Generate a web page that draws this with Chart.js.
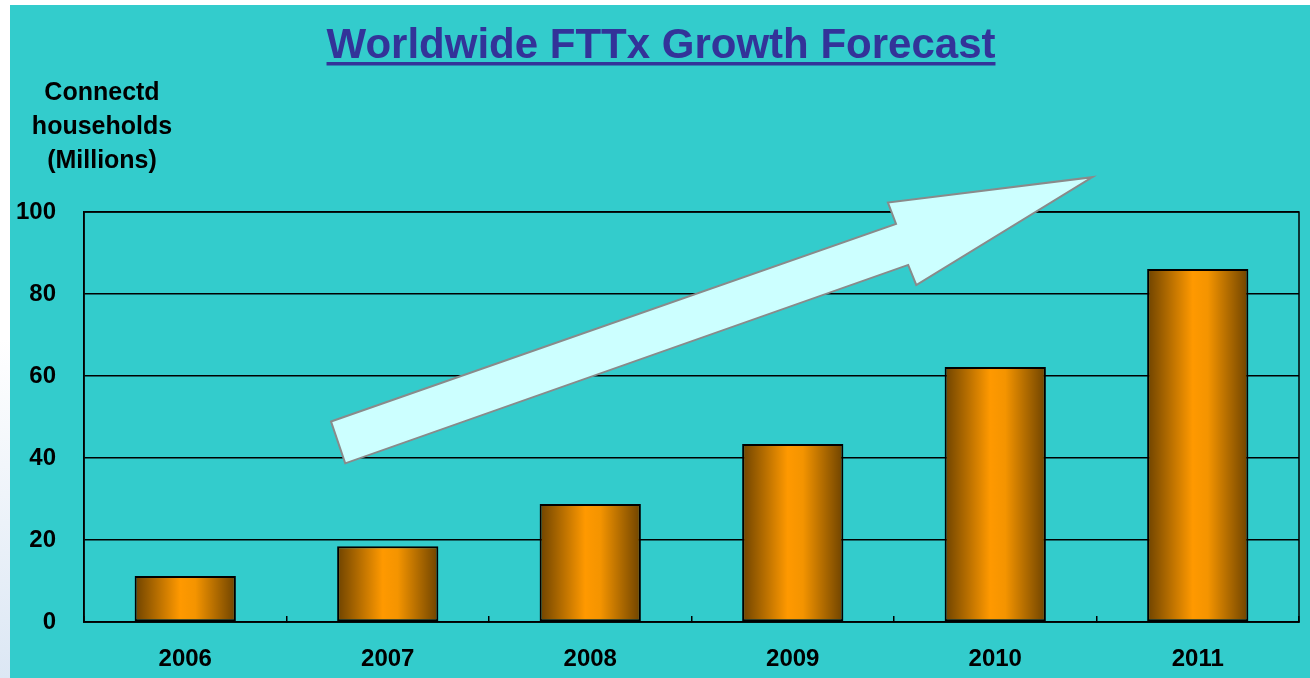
<!DOCTYPE html>
<html>
<head>
<meta charset="utf-8">
<script src="https://cdn.jsdelivr.net/npm/chart.js@4.4.1/dist/chart.umd.min.js"></script>
<style>
  html, body { margin: 0; padding: 0; background: #fff; }
  body { width: 1310px; height: 678px; position: relative; overflow: hidden; }
  #strip { position: absolute; left: 0; top: 0; width: 10px; height: 678px;
    background: linear-gradient(to bottom, #ffffff 0%, #ffffff 50%, #dce7f4 100%); }
  #wrap { position: absolute; left: 10px; top: 5px; width: 1300px; height: 673px; background: #33cccc; }
</style>
</head>
<body>
<div id="strip"></div>
<div id="wrap"><canvas id="chart" width="1300" height="673"></canvas></div>
<script>
const years = ["2006", "2007", "2008", "2009", "2010", "2011"];
const households = [11.2, 18.5, 28.8, 43.4, 62.2, 86.1];
const yTicks = [0, 20, 40, 60, 80, 100];

const titleText = "Worldwide FTTx Growth Forecast";
const yTitleLines = ["Connectd", "households", "(Millions)"];

// arrow outline in (category, value) units, drawn through the scales
const arrowX = [0.72, 3.51, 3.47, 4.48, 3.61, 3.57, 0.79];
const arrowY = [48.9, 97.1, 102.3, 108.5, 82.2, 87.1, 38.7];

const FONT = "'Liberation Sans', Arial, sans-serif";

function barGradient(context) {
  const chart = context.chart;
  const area = chart.chartArea;
  if (!area) return '#ff9900';
  const xs = chart.scales.x;
  const cx = xs.getPixelForValue(context.dataIndex);
  const w = (area.right - area.left) / years.length * 0.5;
  const g = chart.ctx.createLinearGradient(cx - w / 2, 0, cx + w / 2, 0);
  g.addColorStop(0, '#6e4300');
  g.addColorStop(0.45, '#ff9900');
  g.addColorStop(0.6, '#f49400');
  g.addColorStop(1, '#6e4300');
  return g;
}

const decor = {
  id: 'decor',
  afterDraw(chart) {
    const ctx = chart.ctx;
    const a = chart.chartArea;
    ctx.save();
    // plot frame
    ctx.strokeStyle = '#000';
    ctx.lineWidth = 1.5;
    ctx.strokeRect(a.left, a.top, a.right - a.left, a.bottom - a.top);

    // arrow
    const xs = chart.scales.x, ys = chart.scales.y;
    ctx.beginPath();
    arrowX.forEach((v, i) => {
      const px = xs.getPixelForValue(v), py = ys.getPixelForValue(arrowY[i]);
      if (i === 0) ctx.moveTo(px, py); else ctx.lineTo(px, py);
    });
    ctx.closePath();
    ctx.fillStyle = '#ccffff';
    ctx.fill();
    ctx.strokeStyle = '#8a8a8a';
    ctx.lineWidth = 2;
    ctx.lineJoin = 'miter';
    ctx.stroke();

    // title, underlined
    ctx.font = "bold 42px " + FONT;
    ctx.fillStyle = '#333399';
    ctx.textAlign = 'center';
    ctx.textBaseline = 'alphabetic';
    const cx = 651;
    ctx.fillText(titleText, cx, 53);
    const tw = ctx.measureText(titleText).width;
    ctx.fillRect(cx - tw / 2, 57, tw, 3.5);

    // y axis title
    ctx.font = "bold 25px " + FONT;
    ctx.fillStyle = '#000';
    yTitleLines.forEach((line, i) => ctx.fillText(line, 92, 95 + i * 34));
    ctx.restore();
  }
};

new Chart(document.getElementById('chart'), {
  type: 'bar',
  data: {
    labels: years,
    datasets: [{
      data: households,
      backgroundColor: barGradient,
      borderColor: '#000',
      borderWidth: 2,
      borderSkipped: false,
      barPercentage: 0.5,
      categoryPercentage: 1
    }]
  },
  options: {
    responsive: false,
    animation: false,
    layout: { padding: { top: 207, right: 11, left: 0, bottom: 0 } },
    plugins: {
      legend: { display: false },
      tooltip: { enabled: false }
    },
    scales: {
      x: {
        afterFit(scale) { scale.height = 56; },
        grid: {
          offset: true,
          drawOnChartArea: false,
          color: '#000',
          lineWidth: 1.5,
          tickLength: -6
        },
        border: { color: '#000', width: 1.5 },
        ticks: {
          color: '#000',
          padding: 29,
          font: { family: FONT, size: 24, weight: 'bold' }
        }
      },
      y: {
        min: 0,
        max: 100,
        afterFit(scale) { scale.width = 74; },
        afterBuildTicks(scale) { scale.ticks = yTicks.map(v => ({ value: v })); },
        grid: { color: '#000', lineWidth: 1.5, drawTicks: false },
        border: { color: '#000', width: 1.5 },
        ticks: {
          color: '#000',
          padding: 28,
          font: { family: FONT, size: 24, weight: 'bold' }
        }
      }
    }
  },
  plugins: [decor]
});
</script>
</body>
</html>
